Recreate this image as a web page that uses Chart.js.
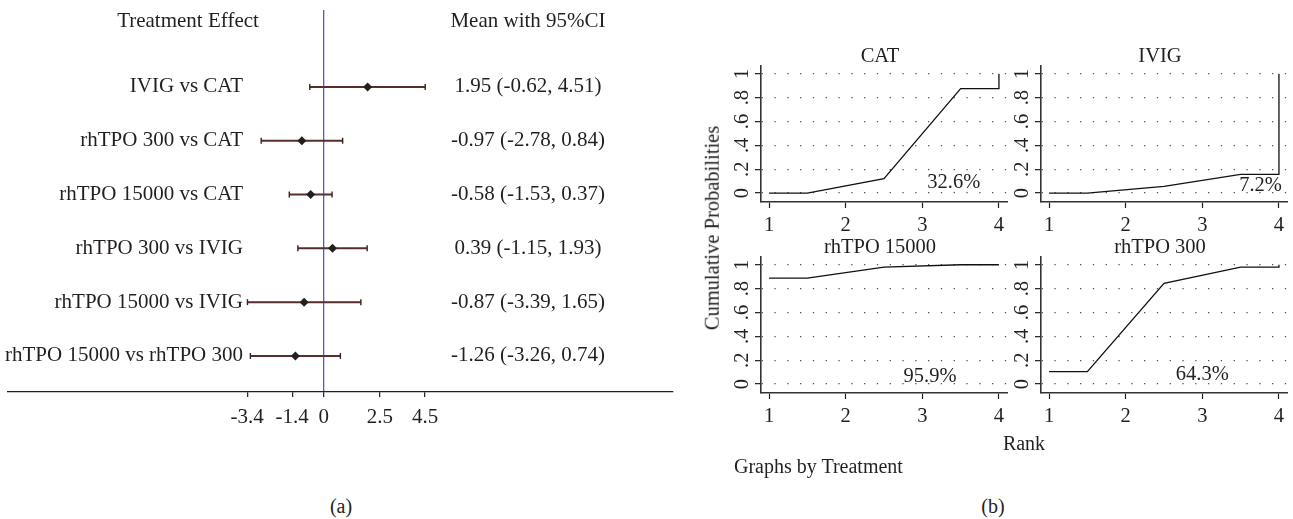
<!DOCTYPE html>
<html>
<head>
<meta charset="utf-8">
<script src="https://cdn.jsdelivr.net/npm/chart.js@4.4.0/dist/chart.umd.min.js"></script>
<style>
  body { margin: 0; background: #fff; width: 1293px; height: 519px; position: relative; overflow: hidden;
         font-family: 'Liberation Serif', 'Times New Roman', serif; color: #231f20; }
  canvas { position: absolute; }
  .lbl { position: absolute; font-size: 20px; line-height: 1; white-space: nowrap; transform: translate(-50%, -50%); }
</style>
</head>
<body>
<canvas id="forest" width="690" height="432" style="left:0;top:0"></canvas>
<canvas id="rank0" width="292" height="206" style="left:721px;top:36px"></canvas>
<canvas id="rank1" width="292" height="206" style="left:1001px;top:36px"></canvas>
<canvas id="rank2" width="292" height="206" style="left:721px;top:227px"></canvas>
<canvas id="rank3" width="292" height="206" style="left:1001px;top:227px"></canvas>

<div class="lbl" style="left:712px;top:228px;transform:translate(-50%,-50%) rotate(-90deg);font-size:20.5px">Cumulative Probabilities</div>
<div class="lbl" style="left:1024px;top:443px">Rank</div>
<div class="lbl" style="left:734px;top:466px;transform:translate(0,-50%)">Graphs by Treatment</div>
<div class="lbl" style="left:341px;top:506px">(a)</div>
<div class="lbl" style="left:993px;top:506px">(b)</div>

<script>
// (a) pairwise comparisons
const comparisons = ['IVIG vs CAT', 'rhTPO 300 vs CAT', 'rhTPO 15000 vs CAT', 'rhTPO 300 vs IVIG', 'rhTPO 15000 vs IVIG', 'rhTPO 15000 vs rhTPO 300'];
const meanDiff = [1.95, -0.97, -0.58, 0.39, -0.87, -1.26];
const ciLow = [-0.62, -2.78, -1.53, -1.15, -3.39, -3.26];
const ciHigh = [4.51, 0.84, 0.37, 1.93, 1.65, 0.74];
const forestTicks = [-3.4, -1.4, 0, 2.5, 4.5];

// (b) cumulative ranking curves
const treatments = ['CAT', 'IVIG', 'rhTPO 15000', 'rhTPO 300'];
const rankX = [1, 1.5, 2.5, 3.5, 4, 4];
const cumCAT = [0, 0, 0.12, 0.876, 0.876, 1];
const cumIVIG = [0, 0, 0.056, 0.157, 0.157, 1];
const cumTPO15000 = [0.888, 0.888, 0.98, 1, 1, 1];
const cumTPO300 = [0.104, 0.104, 0.845, 0.98, 0.98, 1];
const sucra = ['32.6%', '7.2%', '95.9%', '64.3%'];
const rankTicks = [1, 2, 3, 4];
const probTicks = [0, 0.2, 0.4, 0.6, 0.8, 1];
const probTickLabels = ['0', '.2', '.4', '.6', '.8', '1'];

const SERIF = "'Liberation Serif', 'Times New Roman', serif";
const INK = '#231f20';

// ---------- forest plot ----------
const forestText = {
  id: 'forestText',
  afterDraw(chart) {
    const {ctx, chartArea, scales: {y}} = chart;
    const labelRight = chartArea.left + 235;
    const valueCenter = chartArea.left + 520;
    ctx.save();
    ctx.font = '21px ' + SERIF;
    ctx.fillStyle = INK;
    ctx.textBaseline = 'middle';
    ctx.textAlign = 'center';
    ctx.fillText('Treatment Effect', chartArea.left + 180, y.getPixelForValue(-1.22));
    ctx.fillText('Mean with 95%CI', valueCenter, y.getPixelForValue(-1.22));
    comparisons.forEach((name, i) => {
      const py = y.getPixelForValue(i);
      ctx.textAlign = 'right';
      ctx.fillText(name, labelRight, py);
      ctx.textAlign = 'center';
      ctx.fillText(meanDiff[i].toFixed(2) + ' (' + ciLow[i].toFixed(2) + ', ' + ciHigh[i].toFixed(2) + ')', valueCenter, py);
    });
    ctx.restore();
  }
};

const ciSets = comparisons.map((c, i) => ({
  data: [{x: ciLow[i], y: i}, {x: ciHigh[i], y: i}],
  showLine: true,
  borderColor: '#5a2d2d',
  borderWidth: 2,
  pointStyle: 'line',
  rotation: 90,
  pointRadius: 3,
  pointBorderColor: '#3a2020',
  pointBorderWidth: 1.4,
  order: 2
}));

new Chart(document.getElementById('forest'), {
  type: 'scatter',
  data: {
    datasets: ciSets.concat([{
      data: meanDiff.map((m, i) => ({x: m, y: i})),
      pointStyle: 'rectRot',
      pointRadius: 4.5,
      backgroundColor: INK,
      borderColor: INK,
      borderWidth: 0,
      order: 0
    }])
  },
  options: {
    responsive: false,
    animation: false,
    layout: {padding: {left: 8, right: 17, top: 10, bottom: 0}},
    plugins: {legend: {display: false}, tooltip: {enabled: false}},
    scales: {
      x: {
        type: 'linear', min: -14.03, max: 15.52,
        afterBuildTicks: s => { s.ticks = forestTicks.map(v => ({value: v})); },
        afterFit: s => { s.height = 40; },
        grid: {
          color: c => (c.tick && c.tick.value === 0) ? '#4a62b5' : 'transparent',
          lineWidth: 1.3, drawTicks: true, tickLength: 5, tickColor: INK, tickWidth: 1.2
        },
        border: {color: INK, width: 1.3},
        ticks: {font: {family: SERIF, size: 21}, color: INK, padding: 8, maxRotation: 0, autoSkip: false, callback: v => String(v)}
      },
      y: {type: 'linear', display: false, reverse: true, min: -1.43, max: 5.67}
    }
  },
  plugins: [forestText]
});

// ---------- rank panels ----------
const panelText = {
  id: 'panelText',
  afterDraw(chart, args, opts) {
    const {ctx, chartArea, scales: {x, y}} = chart;
    ctx.save();
    ctx.font = '20.5px ' + SERIF;
    ctx.fillStyle = INK;
    ctx.textAlign = 'center';
    ctx.textBaseline = 'middle';
    ctx.fillText(opts.title, (chartArea.left + chartArea.right) / 2 - 4, chartArea.top - 9);
    ctx.fillText(opts.sucra, x.getPixelForValue(opts.at[0]), y.getPixelForValue(opts.at[1]));
    probTicks.forEach((v, i) => {
      ctx.save();
      ctx.translate(chartArea.left - 18, y.getPixelForValue(v));
      ctx.rotate(-Math.PI / 2);
      ctx.fillText(probTickLabels[i], 0, 0);
      ctx.restore();
    });
    ctx.restore();
  }
};

const cumSeries = [cumCAT, cumIVIG, cumTPO15000, cumTPO300];
const sucraAt = [[3.41, 0.09], [3.76, 0.06], [3.1, 0.06], [3.0, 0.08]];

treatments.forEach((name, k) => {
  new Chart(document.getElementById('rank' + k), {
    type: 'scatter',
    data: {
      datasets: [{
        data: rankX.map((r, i) => ({x: r, y: cumSeries[k][i]})),
        showLine: true,
        borderColor: '#111',
        borderWidth: 1.3,
        pointRadius: 0
      }]
    },
    options: {
      responsive: false,
      animation: false,
      layout: {padding: {left: 34, right: 6, top: 30, bottom: 0}},
      plugins: {
        legend: {display: false},
        tooltip: {enabled: false},
        panelText: {title: name, sucra: sucra[k], at: sucraAt[k]}
      },
      scales: {
        x: {
          type: 'linear', min: 0.895, max: 4.105,
          afterBuildTicks: s => { s.ticks = rankTicks.map(v => ({value: v})); },
          afterFit: s => { s.height = 40; },
          grid: {drawOnChartArea: false, drawTicks: true, tickLength: 6, tickColor: INK, tickWidth: 1.2},
          border: {color: '#333', width: 1.6},
          ticks: {font: {family: SERIF, size: 20.5}, color: INK, padding: 5, maxRotation: 0, autoSkip: false}
        },
        y: {
          type: 'linear', min: -0.075, max: 1.065,
          afterBuildTicks: s => { s.ticks = probTicks.map(v => ({value: v})); },
          afterFit: s => { s.width = 6; },
          grid: {color: '#555', lineWidth: 1.3, drawTicks: true, tickLength: 6, tickColor: INK, tickWidth: 1.2},
          border: {color: '#333', width: 1.6, dash: [1.3, 11.5]},
          ticks: {display: false}
        }
      }
    },
    plugins: [panelText]
  });
});
</script>
</body>
</html>
